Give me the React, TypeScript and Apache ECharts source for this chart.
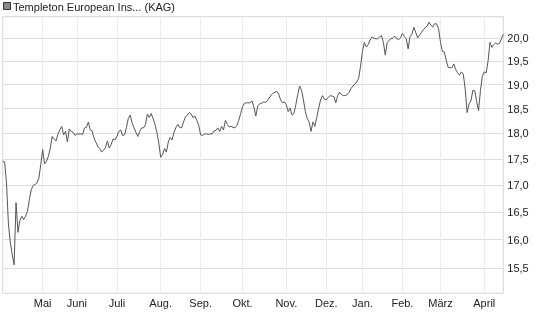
import React, { useEffect, useRef } from "react";
import * as echarts from "echarts";

const titleText = "Templeton European Ins... (KAG)";
const monthNames = ["Apr", "Mai", "Juni", "Juli", "Aug.", "Sep.", "Okt.", "Nov.", "Dez.", "Jan.", "Feb.", "März", "April"];
const monthPointCounts = [21, 18, 21, 23, 21, 22, 23, 21, 19, 21, 20, 23, 11];
const yTicks = [15.5, 16.0, 16.5, 17.0, 17.5, 18.0, 18.5, 19.0, 19.5, 20.0];
const yMin = 15.077;
const yMax = 20.485;

const values = [
  17.45, 17.44, 17.04, 16.28, 15.95, 15.74, 15.56, 16.67, 16.13, 16.34,
  16.42, 16.36, 16.42, 16.51, 16.73, 16.91, 16.99, 17.01, 17.04, 17.13,
  17.39, 17.68, 17.40, 17.45, 17.55, 17.71, 17.94, 17.89, 17.85, 17.98,
  18.07, 18.14, 17.97, 18.04, 17.83, 18.09, 18.04, 18.02, 17.96, 17.99,
  17.99, 17.99, 17.98, 18.11, 18.12, 18.23, 18.07, 18.05, 17.90, 17.82,
  17.74, 17.70, 17.63, 17.67, 17.72, 17.85, 17.71, 17.78, 17.89, 17.87,
  17.94, 18.04, 18.07, 17.96, 17.97, 18.12, 18.30, 18.37, 18.21, 18.11,
  18.02, 17.94, 18.04, 18.11, 18.11, 18.18, 18.39, 18.32, 18.40, 18.30,
  18.18, 18.02, 17.81, 17.53, 17.58, 17.70, 17.63, 17.83, 17.92, 17.87,
  18.02, 18.12, 18.18, 18.12, 18.11, 18.23, 18.33, 18.37, 18.42, 18.39,
  18.32, 18.35, 18.26, 18.16, 17.97, 17.96, 17.99, 17.99, 17.98, 17.99,
  17.99, 18.05, 18.06, 18.11, 18.04, 18.14, 18.07, 18.26, 18.18, 18.13,
  18.14, 18.12, 18.11, 18.16, 18.26, 18.40, 18.54, 18.61, 18.62, 18.62,
  18.62, 18.66, 18.53, 18.35, 18.56, 18.60, 18.61, 18.64, 18.63, 18.66,
  18.72, 18.78, 18.82, 18.84, 18.86, 18.80, 18.68, 18.62, 18.64, 18.58,
  18.44, 18.51, 18.37, 18.40, 18.58, 18.79, 18.97, 18.88, 18.68, 18.44,
  18.30, 18.23, 18.04, 18.23, 18.14, 18.32, 18.51, 18.68, 18.77, 18.70,
  18.68, 18.73, 18.77, 18.76, 18.75, 18.62, 18.77, 18.84, 18.79, 18.77,
  18.77, 18.79, 18.84, 18.92, 18.97, 19.01, 19.06, 19.13, 19.39, 19.71,
  19.91, 19.81, 19.86, 19.96, 20.03, 20.00, 19.99, 19.99, 20.03, 20.06,
  19.91, 19.63, 19.91, 19.95, 19.99, 20.01, 20.05, 19.99, 19.97, 20.01,
  20.11, 20.04, 19.99, 19.77, 20.04, 20.09, 20.25, 20.13, 20.01, 20.07,
  20.13, 20.19, 20.24, 20.27, 20.36, 20.29, 20.25, 20.33, 20.32, 20.21,
  19.91, 19.71, 19.70, 19.52, 19.37, 19.36, 19.36, 19.44, 19.32, 19.25,
  19.20, 19.27, 19.22, 18.90, 18.42, 18.60, 18.66, 18.88, 18.87, 18.65,
  18.46, 18.88, 19.18, 19.27, 19.25, 19.50, 19.91, 19.80, 19.86, 19.90,
  19.87, 19.89, 19.99, 20.09,
];

const FONT = '"Liberation Sans", Arial, Helvetica, sans-serif';

export default function App() {
  const ref = useRef<HTMLDivElement>(null);

  useEffect(() => {
    if (!ref.current) return;
    const chart = echarts.init(ref.current, null, { renderer: "svg" });

    const categories: string[] = [];
    const monthStarts = new Set<number>();
    monthNames.forEach((name, m) => {
      monthStarts.add(categories.length);
      for (let k = 0; k < monthPointCounts[m]; k++) categories.push(name + "|" + m + "-" + k);
    });
    monthStarts.delete(0);
    const showAt = (index: number) => monthStarts.has(index);
    const logTicks = yTicks.map((t) => Math.log(t));

    chart.setOption({
      animation: false,
      grid: {
        left: 2.7,
        right: 41.7,
        top: 16.7,
        bottom: 33.7,
        show: true,
        borderColor: "#d6d6d6",
        borderWidth: 1,
        backgroundColor: "transparent",
        containLabel: false,
        outerBoundsMode: "none",
      },
      graphic: [
        {
          type: "rect",
          shape: { x: 3.5, y: 2.5, width: 7, height: 7 },
          style: { fill: "#8a8a8a", stroke: "#333", lineWidth: 1 },
        },
        {
          type: "text",
          x: 13,
          y: 7,
          style: {
            text: titleText,
            font: "11px " + FONT,
            fill: "#222",
            verticalAlign: "middle",
          },
        },
      ],
      xAxis: {
        type: "category",
        data: categories,
        boundaryGap: false,
        axisLine: { show: false },
        axisTick: { show: false },
        axisLabel: {
          interval: (index: number) => showAt(index),
          formatter: (v: string) => v.split("|")[0],
          fontFamily: FONT,
          fontSize: 11,
          color: "#222",
          margin: 4,
        },
        splitLine: {
          show: true,
          interval: (index: number) => showAt(index),
          lineStyle: { color: "#ececec", width: 1 },
        },
      },
      yAxis: {
        type: "value",
        position: "right",
        min: Math.log(yMin),
        max: Math.log(yMax),
        axisLine: { show: false },
        axisTick: { show: false, customValues: logTicks },
        axisLabel: {
          customValues: logTicks,
          formatter: (v: number) => {
            let best = yTicks[0];
            for (const t of yTicks) if (Math.abs(Math.log(t) - v) < Math.abs(Math.log(best) - v)) best = t;
            return best.toFixed(1).replace(".", ",");
          },
          fontFamily: FONT,
          fontSize: 11,
          color: "#222",
          margin: 4,
        },
        splitLine: { show: true, lineStyle: { color: "#dedede", width: 1 } },
      },
      series: [
        {
          type: "line",
          data: values.map((v) => Math.log(v)),
          showSymbol: false,
          symbol: "none",
          silent: true,
          lineStyle: { color: "#555", width: 1 },
        },
      ],
    });

    return () => chart.dispose();
  }, []);

  return (
    <div
      ref={ref}
      style={{ position: "fixed", left: 0, top: 0, width: 545, height: 327 }}
    />
  );
}
